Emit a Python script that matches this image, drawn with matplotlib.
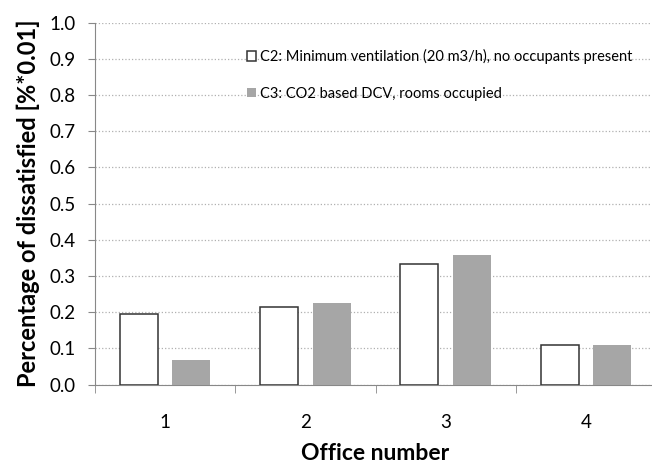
import numpy as np
import matplotlib
matplotlib.use("Agg")
import matplotlib.pyplot as plt

offices = ["1", "2", "3", "4"]
c2 = [0.195, 0.215, 0.333, 0.110]
c3 = [0.067, 0.224, 0.358, 0.108]
c2_label = "C2: Minimum ventilation (20 m3/h), no occupants present"
c3_label = "C3: CO2 based DCV, rooms occupied"

plt.rcParams["font.family"] = ["Lato", "DejaVu Sans"]

fig = plt.figure(figsize=(6.52, 4.70), dpi=100)
# plot area runs slightly past the right edge of the image, like the original
ax = fig.add_axes([95 / 652, 1 - 384.5 / 470, 561 / 652, 361.8 / 470])

x = np.arange(len(offices))
w = 0.27
ax.bar(x - 0.187, c2, w, color="white", edgecolor="#333333", linewidth=1.1, label=c2_label, zorder=3)
ax.bar(x + 0.187, c3, w, color="#a6a6a6", edgecolor="none", label=c3_label, zorder=3)

ax.set_xlim(-0.5, 3.5)
ax.set_ylim(0, 1.0)
yt = np.arange(0, 1.01, 0.1)
ax.set_yticks(yt)
ax.set_yticklabels([f"{v:.1f}" for v in yt], fontsize=13.5)
ax.set_xticks(x)
ax.set_xticklabels(offices, fontsize=13.5)
ax.set_xticks(np.arange(-0.5, 3.6, 1), minor=True)
ax.tick_params(axis="x", which="major", length=0, pad=21)
ax.tick_params(axis="x", which="minor", length=6, color="#888888")
ax.tick_params(axis="y", length=5, color="#888888", pad=9)

ax.grid(axis="y", linestyle=":", color="#b0b0b0", linewidth=0.9, zorder=0)
for s in ["top", "right"]:
    ax.spines[s].set_visible(False)
for s in ["left", "bottom"]:
    ax.spines[s].set_color("#888888")

ax.set_ylabel("Percentage of dissatisfied [%*0.01]", fontsize=17, fontweight="bold", labelpad=7)
ax.set_xlabel("Office number", fontsize=16.5, fontweight="bold", labelpad=9)

ax.legend(loc="upper left", bbox_to_anchor=(152 / 561, 0.927), frameon=False, fontsize=10.5,
          handlelength=0.6, handleheight=0.6, handletextpad=0.3, labelspacing=1.55,
          borderaxespad=0, borderpad=0)

fig.savefig("out.png", dpi=100)
